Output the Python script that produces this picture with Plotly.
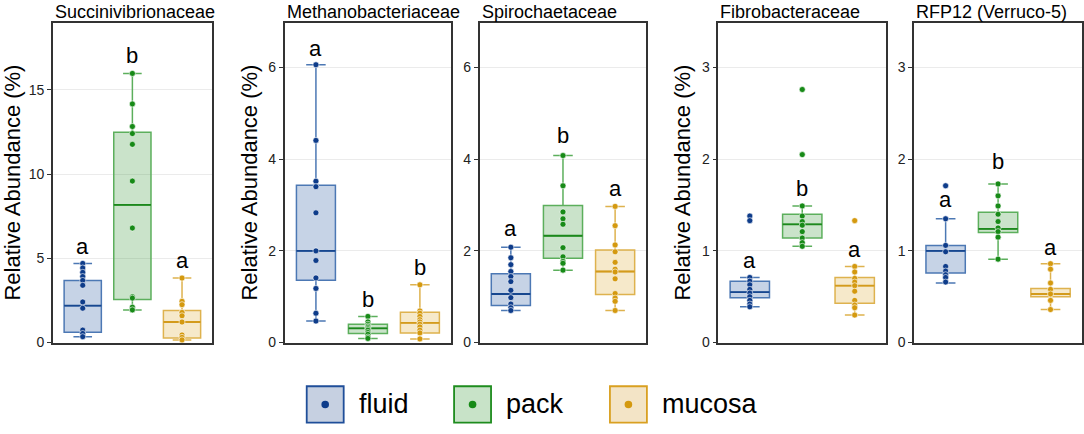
import plotly.graph_objects as go

# ---------------- data ----------------
groups = ["fluid", "pack", "mucosa"]
panel_titles = ["Succinivibrionaceae", "Methanobacteriaceae", "Spirochaetaceae",
                "Fibrobacteraceae", "RFP12 (Verruco-5)"]
y_ranges = [19.0, 6.98, 6.98, 3.49, 3.49]
y_ticks = [[0, 5, 10, 15], [0, 2, 4, 6], [0, 2, 4, 6], [0, 1, 2, 3], [0, 1, 2, 3]]
show_ytitle = [True, True, False, True, False]

# points per panel, per group (fluid, pack, mucosa)
succ_fluid = [4.70, 4.43, 4.17, 3.92, 3.69, 3.40, 2.41, 2.04, 0.74, 0.54, 0.35]
succ_pack = [15.98, 14.17, 12.83, 12.41, 11.77, 9.59, 6.80, 2.72, 2.64, 2.10, 1.94]
succ_mucosa = [3.83, 2.45, 2.25, 1.79, 1.59, 1.22, 0.45, 0.31, 0.16]

meth_fluid = [6.06, 4.41, 3.52, 3.40, 2.83, 2.00, 1.79, 1.41, 1.18, 0.64, 0.47]
meth_pack = [0.57, 0.45, 0.40, 0.36, 0.33, 0.30, 0.27, 0.22, 0.18, 0.12, 0.09]
meth_mucosa = [1.26, 0.69, 0.64, 0.57, 0.50, 0.45, 0.40, 0.34, 0.27, 0.21, 0.08]

spir_fluid = [2.08, 1.85, 1.70, 1.55, 1.44, 1.33, 1.14, 0.98, 0.84, 0.76, 0.70]
spir_pack = [4.08, 3.42, 2.85, 2.70, 2.58, 2.07, 1.87, 1.77, 1.73, 1.58]
spir_mucosa = [2.97, 2.55, 2.13, 1.98, 1.75, 1.60, 1.54, 1.39, 1.07, 0.97, 0.90, 0.70]

fibr_fluid = [1.38, 1.33, 0.71, 0.67, 0.63, 0.58, 0.54, 0.50, 0.46, 0.42, 0.39]
fibr_pack = [2.76, 2.05, 1.49, 1.38, 1.32, 1.28, 1.21, 1.14, 1.09, 1.05]
fibr_mucosa = [1.33, 0.83, 0.77, 0.70, 0.66, 0.62, 0.56, 0.46, 0.41, 0.38, 0.30]

rfp_fluid = [1.71, 1.35, 1.06, 0.99, 0.83, 0.78, 0.74, 0.71, 0.66]
rfp_pack = [1.73, 1.60, 1.49, 1.40, 1.32, 1.25, 1.21, 1.15, 0.91]
rfp_mucosa = [0.86, 0.80, 0.65, 0.58, 0.53, 0.46, 0.36]

points = [
    [succ_fluid, succ_pack, succ_mucosa],
    [meth_fluid, meth_pack, meth_mucosa],
    [spir_fluid, spir_pack, spir_mucosa],
    [fibr_fluid, fibr_pack, fibr_mucosa],
    [rfp_fluid, rfp_pack, rfp_mucosa],
]

# box statistics per panel: [q1, median, q3, lower whisker, upper whisker] per group
box_stats = [
    [[0.62, 2.19, 3.69, 0.35, 4.70], [2.56, 8.17, 12.49, 1.94, 15.98], [0.27, 1.22, 1.90, 0.16, 3.83]],
    [[1.36, 2.00, 3.43, 0.47, 6.06], [0.20, 0.31, 0.40, 0.09, 0.57], [0.21, 0.43, 0.66, 0.08, 1.26]],
    [[0.81, 1.06, 1.50, 0.70, 2.08], [1.84, 2.33, 2.99, 1.58, 4.08], [1.05, 1.55, 2.02, 0.70, 2.97]],
    [[0.49, 0.55, 0.67, 0.39, 0.71], [1.14, 1.29, 1.40, 1.05, 1.49], [0.43, 0.62, 0.71, 0.30, 0.83]],
    [[0.76, 1.00, 1.06, 0.65, 1.35], [1.20, 1.24, 1.42, 0.91, 1.73], [0.50, 0.53, 0.59, 0.36, 0.86]],
]

# significance letters and their heights
letters = [["a", "b", "a"], ["a", "b", "b"], ["a", "b", "a"], ["a", "b", "a"], ["a", "b", "a"]]
letter_y = [
    [5.69, 17.05, 4.87],
    [6.42, 0.95, 1.64],
    [2.48, 4.51, 3.35],
    [0.90, 1.68, 1.01],
    [1.56, 1.97, 1.04],
]

# ---------------- style ----------------
W, H = 1084, 434
panel_px = [(53, 212), (285, 451.5), (480, 647), (719, 887), (915, 1083)]
top_px, bottom_px = 23, 349

fill_col = {"fluid": "rgba(16,70,150,0.24)", "pack": "rgba(34,139,34,0.24)", "mucosa": "rgba(218,165,32,0.24)"}
border_col = {"fluid": "#4c78b4", "pack": "#5caf5c", "mucosa": "#deb24e"}
median_col = {"fluid": "#17478f", "pack": "#1c881c", "mucosa": "#d39b1c"}
point_col = {"fluid": "#0e3c8a", "pack": "#178a17", "mucosa": "#d4990f"}
legend_border = {"fluid": "#1f4e99", "pack": "#1e8c1e", "mucosa": "#d9a021"}
legend_fill = {"fluid": "#c6d0e1", "pack": "#c8e3c8", "mucosa": "#f3e4c6"}

FONT = "Liberation Sans, Arial, sans-serif"

fig = go.Figure()
layout = dict(
    width=W, height=H,
    margin=dict(l=0, r=0, t=0, b=0),
    paper_bgcolor="white", plot_bgcolor="white",
    showlegend=False,
    font=dict(family=FONT, color="black"),
)
annotations = []
shapes = []

ydom = [1 - bottom_px / H, 1 - top_px / H]

for i in range(5):
    sfx = "" if i == 0 else str(i + 1)
    xa, ya = "x" + sfx, "y" + sfx
    x0, x1 = panel_px[i]
    layout["xaxis" + sfx] = dict(
        domain=[x0 / W, x1 / W], anchor=ya, type="category",
        categoryorder="array", categoryarray=groups,
        range=[-0.6, 2.6], showticklabels=False, ticks="",
        showgrid=False, zeroline=False,
        showline=True, mirror=True, linecolor="#333333", linewidth=1.6,
    )
    yax = dict(
        domain=ydom, anchor=xa, range=[0, y_ranges[i]],
        tickvals=y_ticks[i], ticktext=[str(t) for t in y_ticks[i]],
        ticks="outside", ticklen=4, tickwidth=1.2, tickcolor="#333333",
        tickfont=dict(size=14, color="#222222", family=FONT),
        showgrid=True, gridcolor="#ebebeb", gridwidth=1,
        zeroline=False,
        showline=True, mirror=True, linecolor="#333333", linewidth=1.6,
    )
    if show_ytitle[i]:
        yax["title"] = dict(text="Relative Abundance (%)", font=dict(size=22, color="black", family=FONT), standoff=5)
    layout["yaxis" + sfx] = yax

    for g, grp in enumerate(groups):
        q1, med, q3, lo, hi = box_stats[i][g]
        fig.add_trace(go.Box(
            x=[grp], q1=[q1], median=[med], q3=[q3], lowerfence=[lo], upperfence=[hi],
            width=0.75, fillcolor=fill_col[grp],
            line=dict(color=border_col[grp], width=1.5),
            boxpoints=False, xaxis=xa, yaxis=ya, hoverinfo="skip",
        ))
        # darker median line
        fig.add_trace(go.Box(
            x=[grp], q1=[med], median=[med], q3=[med], lowerfence=[med], upperfence=[med],
            width=0.75, fillcolor="rgba(0,0,0,0)",
            line=dict(color=median_col[grp], width=1.8),
            boxpoints=False, xaxis=xa, yaxis=ya, hoverinfo="skip",
        ))
        pts = points[i][g]
        fig.add_trace(go.Scatter(
            x=[grp] * len(pts), y=pts, mode="markers",
            marker=dict(color=point_col[grp], size=6, line=dict(color="white", width=0.6)),
            xaxis=xa, yaxis=ya, hoverinfo="skip", cliponaxis=False,
        ))
        annotations.append(dict(
            x=grp, y=letter_y[i][g], xref=xa, yref=ya, text=letters[i][g],
            showarrow=False, font=dict(size=22, color="black", family=FONT),
            xanchor="center", yanchor="middle",
        ))

    annotations.append(dict(
        x=x0 / W, y=1 - 12.5 / H, xref="paper", yref="paper",
        text=panel_titles[i], showarrow=False, xanchor="left", yanchor="middle",
        font=dict(size=18, color="black", family=FONT),
    ))

# ---------------- legend (bottom) ----------------
leg_cx = [325.5, 473.0, 629.0]
leg_cy = 412.0
half = 18.5
for g, grp in enumerate(groups):
    cx = leg_cx[g]
    shapes.append(dict(
        type="rect", xref="paper", yref="paper",
        x0=(cx - half) / W, x1=(cx + half) / W,
        y0=1 - (leg_cy + half) / H, y1=1 - (leg_cy - half) / H,
        fillcolor=legend_fill[grp], line=dict(color=legend_border[grp], width=1.8),
    ))
    r = 3.8
    shapes.append(dict(
        type="circle", xref="paper", yref="paper",
        x0=(cx - r) / W, x1=(cx + r) / W,
        y0=1 - (leg_cy + r) / H, y1=1 - (leg_cy - r) / H,
        fillcolor=point_col[grp], line=dict(width=0),
    ))
    annotations.append(dict(
        x=(cx + half + 13) / W, y=1 - leg_cy / H, xref="paper", yref="paper",
        text=grp, showarrow=False, xanchor="left", yanchor="middle",
        font=dict(size=27, color="black", family=FONT),
    ))

layout["annotations"] = annotations
layout["shapes"] = shapes
fig.update_layout(**layout)
fig.write_html("out.html", config={"displayModeBar": False},
               post_script="document.body.style.margin='0';")
